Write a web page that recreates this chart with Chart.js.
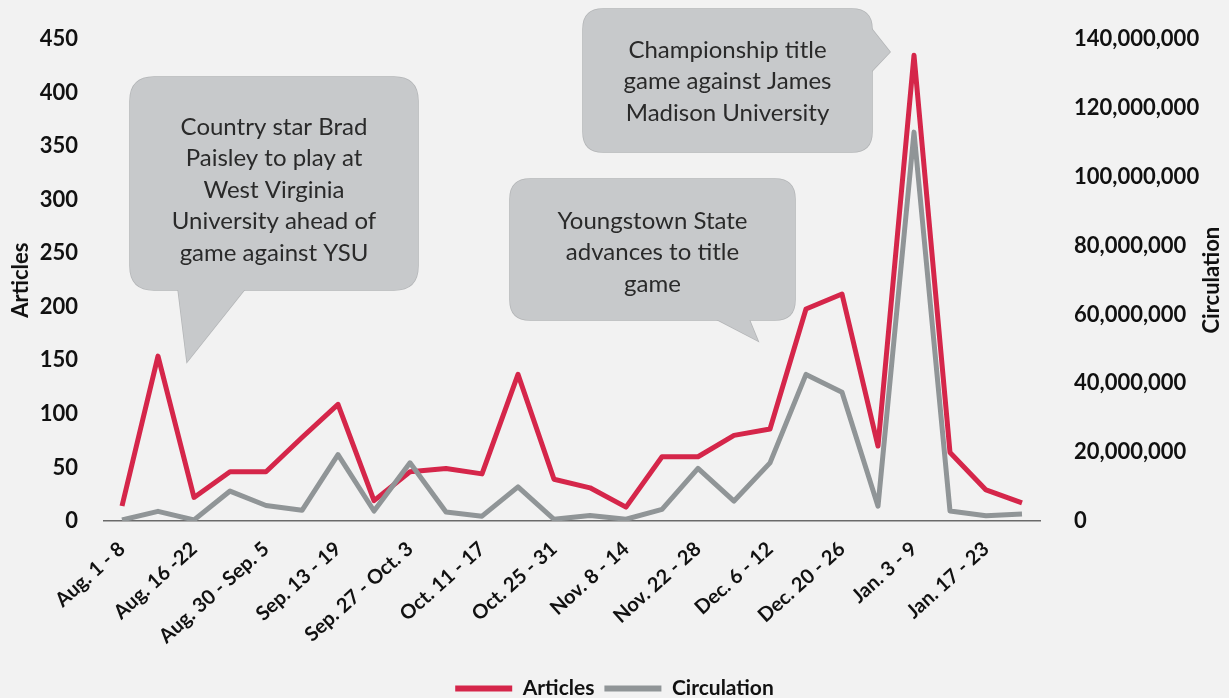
<!DOCTYPE html>
<html>
<head>
<meta charset="utf-8">
<script src="https://cdn.jsdelivr.net/npm/chart.js@4/dist/chart.umd.min.js"></script>
<style>
  html, body { margin: 0; padding: 0; background: #f2f2f2; }
  #wrap { width: 1229px; height: 698px; position: relative; }
</style>
</head>
<body>
<div id="wrap"><canvas id="chart"></canvas></div>
<script>
// weekly buckets, Aug -> Jan
const weeks = [
    'Aug. 1 - 8', 'Aug. 9 - 15', 'Aug. 16 -22', 'Aug. 23 - 29', 'Aug. 30 - Sep. 5',
    'Sep. 6 - 12', 'Sep. 13 - 19', 'Sep. 20 - 26', 'Sep. 27 - Oct. 3', 'Oct. 4 - 10',
    'Oct. 11 - 17', 'Oct. 18 - 24', 'Oct. 25 - 31', 'Nov. 1 - 7', 'Nov. 8 - 14',
    'Nov. 15 - 21', 'Nov. 22 - 28', 'Nov. 29 - Dec. 5', 'Dec. 6 - 12', 'Dec. 13 - 19',
    'Dec. 20 - 26', 'Dec. 27 - Jan. 2', 'Jan. 3 - 9', 'Jan. 10 - 16', 'Jan. 17 - 23',
    'Jan. 24 - 30'
];
const articles = [14, 154, 22, 46, 46, 78, 109, 19, 46, 49, 44, 137, 39, 31, 13,
                  60, 60, 80, 86, 198, 212, 70, 435, 64, 29, 17];
const circulation = [0.3, 2.8, 0.3, 8.7, 4.5, 3.1, 19.3, 2.9, 16.9, 2.6, 1.4, 9.9, 0.5, 1.6, 0.5,
                     3.4, 15.3, 5.8, 16.9, 42.6, 37.4, 4.3, 113, 2.9, 1.5, 2.0].map(v => v * 1000000);

const articleTicks = { min: 0, max: 450, step: 50 };
const circTicks = { min: 0, max: 140000000, step: 20000000 };

const callouts = [
    ['Country star Brad', 'Paisley to play at', 'West Virginia', 'University ahead of', 'game against YSU'],
    ['Youngstown State', 'advances to title', 'game'],
    ['Championship title', 'game against James', 'Madison University']
];

// bubble boxes (layout only)
const bubbleLayout = [
    { x: 130, y: 77, w: 288, h: 213, r: 24, tail: [[178, 289], [187, 362], [245, 289]], cy: 127 },
    { x: 510, y: 179, w: 285, h: 141, r: 20, tail: [[716, 319], [758, 341], [749, 319]], cy: 221 },
    { x: 583, y: 9, w: 289, h: 143, r: 20, tail: [[871, 28], [890, 52], [871, 72]], cy: 50 }
];

const FONT = 'Lato, "DejaVu Sans", sans-serif';

const bgPlugin = {
    id: 'bg',
    beforeDraw(chart) {
        const ctx = chart.ctx;
        ctx.save();
        ctx.fillStyle = '#f2f2f2';
        ctx.fillRect(0, 0, chart.width, chart.height);
        ctx.restore();
    }
};

function roundRect(ctx, x, y, w, h, r) {
    ctx.beginPath();
    ctx.moveTo(x + r, y);
    ctx.lineTo(x + w - r, y);
    ctx.quadraticCurveTo(x + w, y, x + w, y + r);
    ctx.lineTo(x + w, y + h - r);
    ctx.quadraticCurveTo(x + w, y + h, x + w - r, y + h);
    ctx.lineTo(x + r, y + h);
    ctx.quadraticCurveTo(x, y + h, x, y + h - r);
    ctx.lineTo(x, y + r);
    ctx.quadraticCurveTo(x, y, x + r, y);
    ctx.closePath();
}

function tailPath(ctx, pts) {
    ctx.beginPath();
    ctx.moveTo(pts[0][0], pts[0][1]);
    ctx.lineTo(pts[1][0], pts[1][1]);
    ctx.lineTo(pts[2][0], pts[2][1]);
    ctx.closePath();
}

const calloutPlugin = {
    id: 'callouts',
    afterDatasetsDraw(chart) {
        const ctx = chart.ctx;
        ctx.save();
        bubbleLayout.forEach((b, i) => {
            ctx.lineWidth = 1.5;
            ctx.strokeStyle = '#b3b5b7';
            roundRect(ctx, b.x, b.y, b.w, b.h, b.r); ctx.stroke();
            tailPath(ctx, b.tail); ctx.stroke();
            ctx.fillStyle = '#c7c9cb';
            roundRect(ctx, b.x, b.y, b.w, b.h, b.r); ctx.fill();
            tailPath(ctx, b.tail); ctx.fill();

            ctx.fillStyle = '#2a2a2a';
            ctx.font = '24px ' + FONT;
            ctx.textAlign = 'center';
            ctx.textBaseline = 'middle';
            callouts[i].forEach((line, j) => {
                ctx.fillText(line, b.x + b.w / 2, b.cy + j * 31.5);
            });
        });
        ctx.restore();
    }
};

// right axis title reads bottom-to-top in the original
const rightTitlePlugin = {
    id: 'rightTitle',
    afterDraw(chart) {
        const ctx = chart.ctx;
        const area = chart.chartArea;
        ctx.save();
        ctx.translate(1212, (area.top + area.bottom) / 2);
        ctx.rotate(-Math.PI / 2);
        ctx.fillStyle = '#111';
        ctx.font = 'bold 22px ' + FONT;
        ctx.textAlign = 'center';
        ctx.textBaseline = 'middle';
        ctx.fillText('Circulation', 0, 0);
        ctx.restore();
    }
};

const ctx = document.getElementById('chart').getContext('2d');
new Chart(ctx, {
    type: 'line',
    data: {
        labels: weeks,
        datasets: [{
            label: 'Articles',
            data: articles,
            yAxisID: 'y',
            borderColor: '#d5264a',
            backgroundColor: '#d5264a',
            borderWidth: 5,
            pointRadius: 0,
            tension: 0,
            borderJoinStyle: 'round',
            order: 1
        }, {
            label: 'Circulation',
            data: circulation,
            yAxisID: 'y1',
            borderColor: '#909597',
            backgroundColor: '#909597',
            borderWidth: 5,
            pointRadius: 0,
            tension: 0,
            borderJoinStyle: 'round',
            order: 0
        }]
    },
    options: {
        responsive: true,
        maintainAspectRatio: false,
        animation: false,
        layout: { padding: { top: 34, left: 0, right: 0, bottom: -11 } },
        plugins: {
            tooltip: { enabled: false },
            legend: {
                display: true,
                position: 'bottom',
                labels: {
                    boxWidth: 57,
                    boxHeight: 6,
                    padding: 10,
                    color: '#111',
                    font: { family: FONT, size: 21, weight: 'bold' },
                    sort: (a, b) => a.datasetIndex - b.datasetIndex,
                    generateLabels: (chart) => Chart.defaults.plugins.legend.labels.generateLabels(chart)
                        .map(l => ({ ...l, lineWidth: 0 }))
                }
            }
        },
        scales: {
            x: {
                offset: true,
                grid: { display: false },
                border: { display: true, color: '#6a6a6a', width: 1.5, dash: [2, 3] },
                ticks: {
                    autoSkip: false,
                    maxRotation: 42,
                    minRotation: 42,
                    padding: 8,
                    color: '#111',
                    font: { family: FONT, size: 20, weight: 'bold' },
                    callback: (v, i) => (i % 2 === 0 ? weeks[i] : '')
                },
                afterFit: (scale) => { scale.height = 147; }
            },
            y: {
                position: 'left',
                min: articleTicks.min,
                max: articleTicks.max,
                grid: { display: false },
                border: { display: false },
                ticks: {
                    stepSize: articleTicks.step,
                    padding: 18,
                    color: '#111',
                    font: { family: FONT, size: 22, weight: 'bold' }
                },
                title: {
                    display: true,
                    text: 'Articles',
                    color: '#111',
                    padding: { top: 8, bottom: 0 },
                    font: { family: FONT, size: 22, weight: 'bold' }
                },
                afterFit: (scale) => { scale.width = 104; }
            },
            y1: {
                position: 'right',
                min: circTicks.min,
                max: circTicks.max,
                grid: { display: false },
                border: { display: false },
                ticks: {
                    stepSize: circTicks.step,
                    padding: 26,
                    color: '#111',
                    font: { family: FONT, size: 22, weight: 'bold' },
                    callback: (v) => v.toLocaleString('en-US')
                },
                title: { display: false },
                afterFit: (scale) => { scale.width = 189; }
            }
        }
    },
    plugins: [bgPlugin, calloutPlugin, rightTitlePlugin]
});
</script>
</body>
</html>
